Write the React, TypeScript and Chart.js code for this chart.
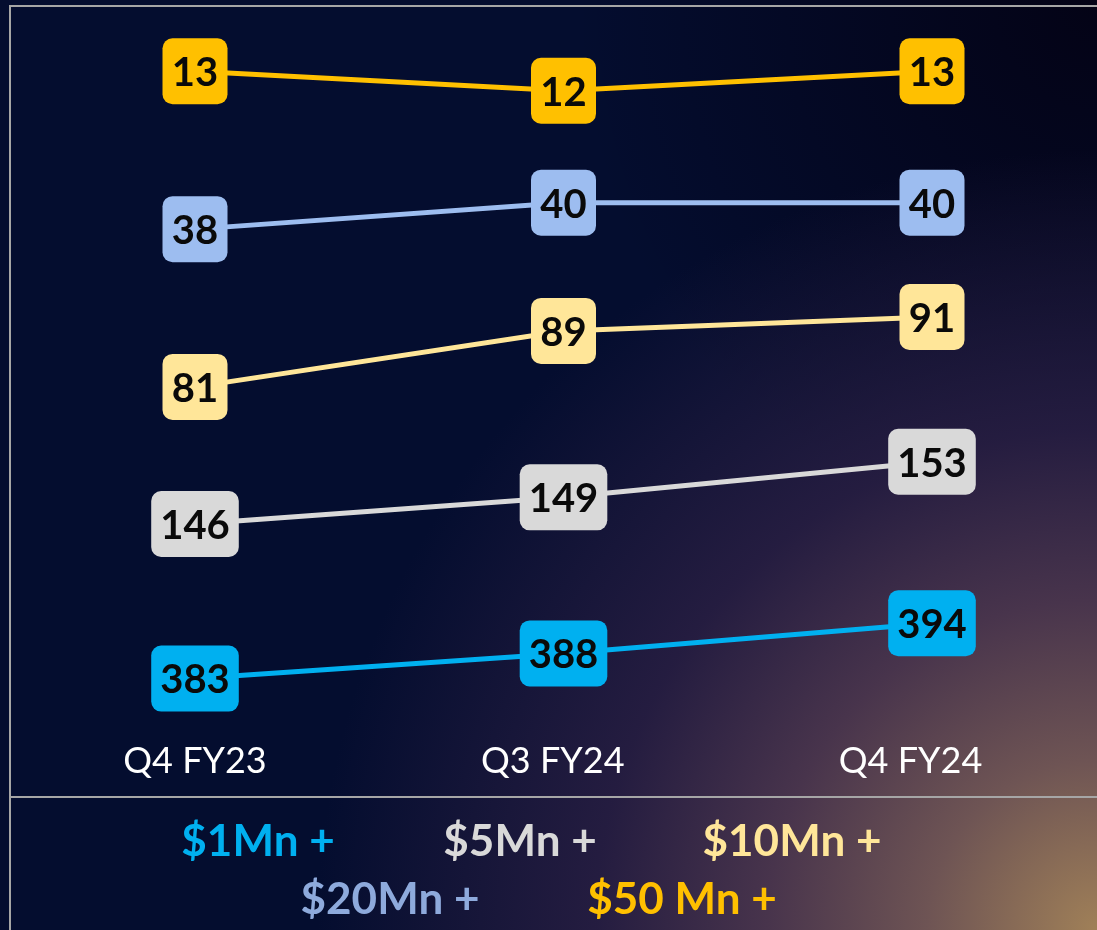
import React, { useEffect, useRef } from "react";
import { Chart, registerables } from "chart.js";

Chart.register(...registerables);

// ---------- data ----------
const categories = ["Q4 FY23", "Q3 FY24", "Q4 FY24"];
const seriesNames = ["$1Mn +", "$5Mn +", "$10Mn +", "$20Mn +", "$50 Mn +"];
const values1Mn = [383, 388, 394];
const values5Mn = [146, 149, 153];
const values10Mn = [81, 89, 91];
const values20Mn = [38, 40, 40];
const values50Mn = [13, 12, 13];

// ---------- styling / layout ----------
const seriesValues = [values1Mn, values5Mn, values10Mn, values20Mn, values50Mn];
const seriesColors = ["#00b0f0", "#d9d9d9", "#ffe699", "#9dbdf0", "#ffc000"];
const legendColors = ["#00b0f0", "#d9d9d9", "#ffe699", "#8eaadc", "#ffc000"];
// each series sits on its own hidden value axis (bands)
const axisBounds: [number, number][] = [
  [374.8, 510],
  [124, 200.4],
  [33.4, 130.6],
  [0.9, 52.3],
  [-20.25, 14.6],
];
const legendLayout = [
  { row: 0, cx: 258 },
  { row: 0, cx: 520 },
  { row: 0, cx: 792 },
  { row: 1, cx: 390 },
  { row: 1, cx: 682 },
];

const FONT = "Lato, 'Open Sans', 'DejaVu Sans', sans-serif";

const labelBoxes = {
  id: "labelBoxes",
  afterDatasetsDraw(chart: any) {
    const ctx = chart.ctx as CanvasRenderingContext2D;
    ctx.save();
    ctx.font = `bold 40px ${FONT}`;
    ctx.textAlign = "center";
    ctx.textBaseline = "middle";
    chart.data.datasets.forEach((ds: any, i: number) => {
      const meta = chart.getDatasetMeta(i);
      meta.data.forEach((pt: any, j: number) => {
        const text = String(ds.data[j]);
        const tw = ctx.measureText(text).width;
        const w = Math.max(65, tw + 18);
        const h = 66;
        ctx.beginPath();
        (ctx as any).roundRect(pt.x - w / 2, pt.y - h / 2, w, h, 10);
        ctx.fillStyle = ds.borderColor;
        ctx.fill();
        ctx.fillStyle = "#0a0a0a";
        ctx.fillText(text, pt.x, pt.y + 2);
      });
    });
    ctx.restore();
  },
};

export default function App() {
  const canvasRef = useRef<HTMLCanvasElement | null>(null);

  useEffect(() => {
    if (!canvasRef.current) return;
    const yScales: any = {};
    axisBounds.forEach(([min, max], i) => {
      yScales["y" + i] = { type: "linear", display: false, min, max };
    });
    const chart = new Chart(canvasRef.current, {
      type: "line",
      data: {
        labels: categories,
        datasets: seriesValues.map((vals, i) => ({
          label: seriesNames[i],
          data: vals,
          borderColor: seriesColors[i],
          backgroundColor: seriesColors[i],
          borderWidth: 5,
          pointRadius: 0,
          tension: 0,
          fill: false,
          xAxisID: "x",
          yAxisID: "y" + i,
        })),
      },
      options: {
        animation: false,
        responsive: true,
        maintainAspectRatio: false,
        layout: { padding: { left: 195, right: 165, top: 40, bottom: 127 } },
        plugins: {
          legend: { display: false },
          tooltip: { enabled: false },
        },
        scales: {
          x: { type: "category", display: false, offset: false },
          xl: {
            type: "linear",
            position: "bottom",
            min: 0,
            max: 2.06,
            afterBuildTicks: (s: any) => {
              s.ticks = categories.map((_, i) => ({ value: i }));
            },
            ticks: {
              callback: (v: any) => categories[Math.round(Number(v))] ?? "",
              color: "#ffffff",
              font: { family: FONT, size: 36 },
              padding: 20,
              autoSkip: false,
              maxRotation: 0,
            },
            grid: { display: false, drawTicks: false },
            border: { display: false },
          },
          ...yScales,
        },
      } as any,
      plugins: [labelBoxes],
    });
    return () => chart.destroy();
  }, []);

  const line = "#a6a6a6";
  return (
    <div
      style={{
        position: "absolute",
        left: 0,
        top: 0,
        width: 1097,
        height: 930,
        overflow: "hidden",
        background:
          "radial-gradient(circle at 100% 100%, rgb(160,128,88) 0px, rgb(110,84,84) 170px, rgb(72,52,76) 330px, rgba(40,30,66,0.9) 500px, rgba(22,18,54,0) 780px)," +
          "radial-gradient(ellipse 520px 560px at 100% 0%, rgba(4,3,22,1) 0%, rgba(4,3,22,0) 100%)," +
          "#040d2f",
      }}
    >
      <div style={{ position: "absolute", left: 9, top: 5, width: 1088, height: 2, background: line }} />
      <div style={{ position: "absolute", left: 9, top: 5, width: 2, height: 925, background: line }} />
      <div style={{ position: "absolute", left: 11, top: 796, width: 1086, height: 2, background: line }} />
      <div style={{ position: "absolute", left: 0, top: 0, width: 1097, height: 930 }}>
        <canvas ref={canvasRef} />
      </div>
      {seriesNames.map((name, i) => (
        <div
          key={name}
          style={{
            position: "absolute",
            left: legendLayout[i].cx,
            top: 810 + legendLayout[i].row * 58,
            transform: "translateX(-50%)",
            height: 58,
            lineHeight: "58px",
            whiteSpace: "nowrap",
            fontFamily: FONT,
            fontWeight: 700,
            fontSize: 44,
            color: legendColors[i],
          }}
        >
          {name}
        </div>
      ))}
    </div>
  );
}
